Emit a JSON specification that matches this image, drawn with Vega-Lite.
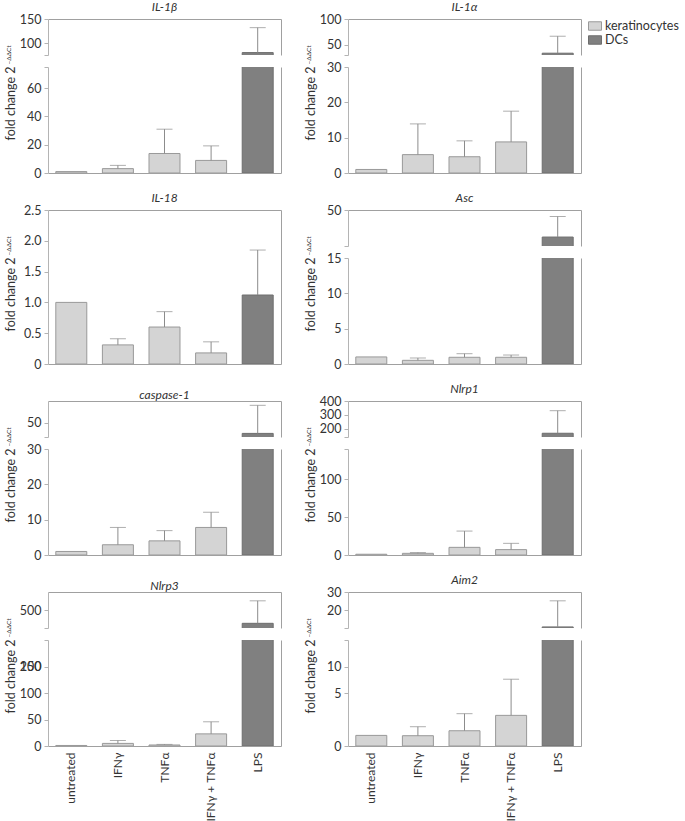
{
"$schema":"https://vega.github.io/schema/vega-lite/v6.json",
"padding":{"left":4,"top":1,"right":0,"bottom":0},
"datasets":{"d":[
{"gene":"IL-1β","treatment":"untreated","cell":"keratinocytes","value":1,"err":null},
{"gene":"IL-1β","treatment":"IFNγ","cell":"keratinocytes","value":3.1,"err":5.4},
{"gene":"IL-1β","treatment":"TNFα","cell":"keratinocytes","value":13.8,"err":31},
{"gene":"IL-1β","treatment":"IFNγ + TNFα","cell":"keratinocytes","value":8.9,"err":19.2},
{"gene":"IL-1β","treatment":"LPS","cell":"DCs","value":80,"err":132},
{"gene":"IL-1α","treatment":"untreated","cell":"keratinocytes","value":1,"err":null},
{"gene":"IL-1α","treatment":"IFNγ","cell":"keratinocytes","value":5.2,"err":13.9},
{"gene":"IL-1α","treatment":"TNFα","cell":"keratinocytes","value":4.6,"err":9.1},
{"gene":"IL-1α","treatment":"IFNγ + TNFα","cell":"keratinocytes","value":8.8,"err":17.5},
{"gene":"IL-1α","treatment":"LPS","cell":"DCs","value":33.5,"err":66.5},
{"gene":"IL-18","treatment":"untreated","cell":"keratinocytes","value":1.0,"err":null},
{"gene":"IL-18","treatment":"IFNγ","cell":"keratinocytes","value":0.31,"err":0.41},
{"gene":"IL-18","treatment":"TNFα","cell":"keratinocytes","value":0.60,"err":0.85},
{"gene":"IL-18","treatment":"IFNγ + TNFα","cell":"keratinocytes","value":0.18,"err":0.36},
{"gene":"IL-18","treatment":"LPS","cell":"DCs","value":1.12,"err":1.85},
{"gene":"Asc","treatment":"untreated","cell":"keratinocytes","value":1.0,"err":null},
{"gene":"Asc","treatment":"IFNγ","cell":"keratinocytes","value":0.52,"err":0.85},
{"gene":"Asc","treatment":"TNFα","cell":"keratinocytes","value":0.95,"err":1.46},
{"gene":"Asc","treatment":"IFNγ + TNFα","cell":"keratinocytes","value":0.95,"err":1.27},
{"gene":"Asc","treatment":"LPS","cell":"DCs","value":23.7,"err":43.7},
{"gene":"caspase-1","treatment":"untreated","cell":"keratinocytes","value":1,"err":null},
{"gene":"caspase-1","treatment":"IFNγ","cell":"keratinocytes","value":2.9,"err":7.8},
{"gene":"caspase-1","treatment":"TNFα","cell":"keratinocytes","value":4.0,"err":6.9},
{"gene":"caspase-1","treatment":"IFNγ + TNFα","cell":"keratinocytes","value":7.8,"err":12.1},
{"gene":"caspase-1","treatment":"LPS","cell":"DCs","value":35,"err":74},
{"gene":"Nlrp1","treatment":"untreated","cell":"keratinocytes","value":1,"err":null},
{"gene":"Nlrp1","treatment":"IFNγ","cell":"keratinocytes","value":2.2,"err":3.2},
{"gene":"Nlrp1","treatment":"TNFα","cell":"keratinocytes","value":10.1,"err":31.6},
{"gene":"Nlrp1","treatment":"IFNγ + TNFα","cell":"keratinocytes","value":7.1,"err":15.4},
{"gene":"Nlrp1","treatment":"LPS","cell":"DCs","value":167,"err":330},
{"gene":"Nlrp3","treatment":"untreated","cell":"keratinocytes","value":1,"err":null},
{"gene":"Nlrp3","treatment":"IFNγ","cell":"keratinocytes","value":4.9,"err":10.4},
{"gene":"Nlrp3","treatment":"TNFα","cell":"keratinocytes","value":1.9,"err":3.0},
{"gene":"Nlrp3","treatment":"IFNγ + TNFα","cell":"keratinocytes","value":22.9,"err":45.7},
{"gene":"Nlrp3","treatment":"LPS","cell":"DCs","value":426,"err":551},
{"gene":"Aim2","treatment":"untreated","cell":"keratinocytes","value":1.0,"err":null},
{"gene":"Aim2","treatment":"IFNγ","cell":"keratinocytes","value":0.97,"err":1.82},
{"gene":"Aim2","treatment":"TNFα","cell":"keratinocytes","value":1.44,"err":3.05},
{"gene":"Aim2","treatment":"IFNγ + TNFα","cell":"keratinocytes","value":2.89,"err":7.6},
{"gene":"Aim2","treatment":"LPS","cell":"DCs","value":15.3,"err":25.1}
]},
"data":{"name":"d"},
"columns":2,
"spacing":{"row":12,"column":23},
"concat":[
 {"vconcat":[
  {"width":233,"height":36,"title":"IL-1β","transform":[{"filter":"datum.gene == 'IL-1β'"}],"layer":[
   {"mark":{"type":"bar","clip":true,"strokeWidth":1},"encoding":{
    "x":{"field":"treatment","type":"nominal","sort":["untreated","IFNγ","TNFα","IFNγ + TNFα","LPS"],"scale":{"paddingInner":0.335,"paddingOuter":0.1675},"axis":{"orient":"top","labels":false,"ticks":false,"title":null,"domainColor":"#a0a0a0"}},
    "y":{"field":"value","type":"quantitative","scale":{"domain":[75,150],"zero":false,"nice":false},"axis":{"values":[75,100,150],"labelExpr":"datum.value == 75 ? '' : datum.label","title":null}},
    "fill":{"field":"cell","type":"nominal","scale":{"domain":["keratinocytes","DCs"],"range":["#d4d4d4","#808080"]},"legend":{"title":null}},
    "stroke":{"field":"cell","type":"nominal","scale":{"domain":["keratinocytes","DCs"],"range":["#999999","#6e6e6e"]},"legend":{"title":null}}}},
   {"mark":{"type":"rule","clip":true,"color":"#8c8c8c"},"encoding":{
    "x":{"field":"treatment","type":"nominal","sort":["untreated","IFNγ","TNFα","IFNγ + TNFα","LPS"],"axis":null},
    "y":{"field":"value","type":"quantitative","scale":{"domain":[75,150],"zero":false,"nice":false},"axis":{"orient":"right","labels":false,"ticks":false,"title":null,"domainColor":"#a0a0a0"}},
    "y2":{"field":"err"}}},
   {"mark":{"type":"tick","clip":true,"color":"#8c8c8c","size":16,"thickness":1},"encoding":{
    "x":{"field":"treatment","type":"nominal","sort":["untreated","IFNγ","TNFα","IFNγ + TNFα","LPS"],"axis":null},
    "y":{"field":"err","type":"quantitative","scale":{"domain":[75,150],"zero":false,"nice":false},"axis":null}}}
  ],"resolve":{"axis":{"x":"independent","y":"independent"}}},
  {"width":233,"height":106,"transform":[{"filter":"datum.gene == 'IL-1β'"}],"layer":[
   {"mark":{"type":"bar","clip":true,"strokeWidth":1},"encoding":{
    "x":{"field":"treatment","type":"nominal","sort":["untreated","IFNγ","TNFα","IFNγ + TNFα","LPS"],"scale":{"paddingInner":0.335,"paddingOuter":0.1675},"axis":{"orient":"bottom","labels":false,"ticks":false,"title":null,"domainColor":"#a0a0a0"}},
    "y":{"field":"value","type":"quantitative","scale":{"domain":[0,75],"zero":false,"nice":false},"axis":{"values":[0,20,40,60,75],"labelExpr":"datum.value == 75 ? '' : datum.label","title":"fold change 2","titleX":-34,"titleY":-1,"titleAlign":"right","titleAngle":270,"titleBaseline":"alphabetic"}},
    "fill":{"field":"cell","type":"nominal","legend":{"title":null}},
    "stroke":{"field":"cell","type":"nominal","legend":{"title":null}}}},
   {"mark":{"type":"rule","clip":true,"color":"#8c8c8c"},"encoding":{
    "x":{"field":"treatment","type":"nominal","sort":["untreated","IFNγ","TNFα","IFNγ + TNFα","LPS"],"axis":null},
    "y":{"field":"value","type":"quantitative","scale":{"domain":[0,75],"zero":false,"nice":false},"axis":{"orient":"right","labels":false,"ticks":false,"title":null,"domainColor":"#a0a0a0"}},
    "y2":{"field":"err"}}},
   {"mark":{"type":"tick","clip":true,"color":"#8c8c8c","size":16,"thickness":1},"encoding":{
    "x":{"field":"treatment","type":"nominal","sort":["untreated","IFNγ","TNFα","IFNγ + TNFα","LPS"],"axis":null},
    "y":{"field":"err","type":"quantitative","scale":{"domain":[0,75],"zero":false,"nice":false},"axis":{"orient":"left","domain":false,"ticks":false,"labels":false,"title":"−ΔΔCt","titleFontSize":6.5,"titleX":-38,"titleY":-3,"titleAlign":"left","titleAngle":270,"titleBaseline":"alphabetic"}}}}
  ],"resolve":{"axis":{"x":"independent","y":"independent"}}}
 ],"spacing":12,"bounds":"flush"},
 {"vconcat":[
  {"width":233,"height":36,"title":"IL-1α","transform":[{"filter":"datum.gene == 'IL-1α'"}],"layer":[
   {"mark":{"type":"bar","clip":true,"strokeWidth":1},"encoding":{
    "x":{"field":"treatment","type":"nominal","sort":["untreated","IFNγ","TNFα","IFNγ + TNFα","LPS"],"scale":{"paddingInner":0.335,"paddingOuter":0.1675},"axis":{"orient":"top","labels":false,"ticks":false,"title":null,"domainColor":"#a0a0a0"}},
    "y":{"field":"value","type":"quantitative","scale":{"domain":[30,100],"zero":false,"nice":false},"axis":{"values":[30,50,100],"labelExpr":"datum.value == 30 ? '' : datum.label","title":null}},
    "fill":{"field":"cell","type":"nominal","legend":{"title":null}},
    "stroke":{"field":"cell","type":"nominal","legend":{"title":null}}}},
   {"mark":{"type":"rule","clip":true,"color":"#8c8c8c"},"encoding":{
    "x":{"field":"treatment","type":"nominal","sort":["untreated","IFNγ","TNFα","IFNγ + TNFα","LPS"],"axis":null},
    "y":{"field":"value","type":"quantitative","scale":{"domain":[30,100],"zero":false,"nice":false},"axis":{"orient":"right","labels":false,"ticks":false,"title":null,"domainColor":"#a0a0a0"}},
    "y2":{"field":"err"}}},
   {"mark":{"type":"tick","clip":true,"color":"#8c8c8c","size":16,"thickness":1},"encoding":{
    "x":{"field":"treatment","type":"nominal","sort":["untreated","IFNγ","TNFα","IFNγ + TNFα","LPS"],"axis":null},
    "y":{"field":"err","type":"quantitative","scale":{"domain":[30,100],"zero":false,"nice":false},"axis":null}}}
  ],"resolve":{"axis":{"x":"independent","y":"independent"}}},
  {"width":233,"height":106,"transform":[{"filter":"datum.gene == 'IL-1α'"}],"layer":[
   {"mark":{"type":"bar","clip":true,"strokeWidth":1},"encoding":{
    "x":{"field":"treatment","type":"nominal","sort":["untreated","IFNγ","TNFα","IFNγ + TNFα","LPS"],"scale":{"paddingInner":0.335,"paddingOuter":0.1675},"axis":{"orient":"bottom","labels":false,"ticks":false,"title":null,"domainColor":"#a0a0a0"}},
    "y":{"field":"value","type":"quantitative","scale":{"domain":[0,30],"zero":false,"nice":false},"axis":{"values":[0,10,20,30],"title":"fold change 2","titleX":-34,"titleY":-1,"titleAlign":"right","titleAngle":270,"titleBaseline":"alphabetic"}},
    "fill":{"field":"cell","type":"nominal","legend":{"title":null}},
    "stroke":{"field":"cell","type":"nominal","legend":{"title":null}}}},
   {"mark":{"type":"rule","clip":true,"color":"#8c8c8c"},"encoding":{
    "x":{"field":"treatment","type":"nominal","sort":["untreated","IFNγ","TNFα","IFNγ + TNFα","LPS"],"axis":null},
    "y":{"field":"value","type":"quantitative","scale":{"domain":[0,30],"zero":false,"nice":false},"axis":{"orient":"right","labels":false,"ticks":false,"title":null,"domainColor":"#a0a0a0"}},
    "y2":{"field":"err"}}},
   {"mark":{"type":"tick","clip":true,"color":"#8c8c8c","size":16,"thickness":1},"encoding":{
    "x":{"field":"treatment","type":"nominal","sort":["untreated","IFNγ","TNFα","IFNγ + TNFα","LPS"],"axis":null},
    "y":{"field":"err","type":"quantitative","scale":{"domain":[0,30],"zero":false,"nice":false},"axis":{"orient":"left","domain":false,"ticks":false,"labels":false,"title":"−ΔΔCt","titleFontSize":6.5,"titleX":-38,"titleY":-3,"titleAlign":"left","titleAngle":270,"titleBaseline":"alphabetic"}}}}
  ],"resolve":{"axis":{"x":"independent","y":"independent"}}}
 ],"spacing":12,"bounds":"flush"},
 {"width":233,"height":154,"title":"IL-18","transform":[{"filter":"datum.gene == 'IL-18'"}],"layer":[
   {"mark":{"type":"bar","clip":true,"strokeWidth":1},"encoding":{
    "x":{"field":"treatment","type":"nominal","sort":["untreated","IFNγ","TNFα","IFNγ + TNFα","LPS"],"scale":{"paddingInner":0.335,"paddingOuter":0.1675},"axis":{"orient":"bottom","labels":false,"ticks":false,"title":null,"domainColor":"#a0a0a0"}},
    "y":{"field":"value","type":"quantitative","scale":{"domain":[0,2.5],"zero":false,"nice":false},"axis":{"values":[0,0.5,1,1.5,2,2.5],"labelExpr":"datum.value == 0 ? '0' : format(datum.value, '.1f')","title":"fold change 2","titleX":-34,"titleY":47,"titleAlign":"right","titleAngle":270,"titleBaseline":"alphabetic"}},
    "fill":{"field":"cell","type":"nominal","legend":{"title":null}},
    "stroke":{"field":"cell","type":"nominal","legend":{"title":null}}}},
   {"mark":{"type":"rule","clip":true,"color":"#8c8c8c"},"encoding":{
    "x":{"field":"treatment","type":"nominal","sort":["untreated","IFNγ","TNFα","IFNγ + TNFα","LPS"],"axis":{"orient":"top","labels":false,"ticks":false,"title":null,"domainColor":"#a0a0a0"}},
    "y":{"field":"value","type":"quantitative","scale":{"domain":[0,2.5],"zero":false,"nice":false},"axis":{"orient":"right","labels":false,"ticks":false,"title":null,"domainColor":"#a0a0a0"}},
    "y2":{"field":"err"}}},
   {"mark":{"type":"tick","clip":true,"color":"#8c8c8c","size":16,"thickness":1},"encoding":{
    "x":{"field":"treatment","type":"nominal","sort":["untreated","IFNγ","TNFα","IFNγ + TNFα","LPS"],"axis":null},
    "y":{"field":"err","type":"quantitative","scale":{"domain":[0,2.5],"zero":false,"nice":false},"axis":{"orient":"left","domain":false,"ticks":false,"labels":false,"title":"−ΔΔCt","titleFontSize":6.5,"titleX":-38,"titleY":45,"titleAlign":"left","titleAngle":270,"titleBaseline":"alphabetic"}}}}
  ],"resolve":{"axis":{"x":"independent","y":"independent"}}},
 {"vconcat":[
  {"width":233,"height":36,"title":"Asc","transform":[{"filter":"datum.gene == 'Asc'"}],"layer":[
   {"mark":{"type":"bar","clip":true,"strokeWidth":1},"encoding":{
    "x":{"field":"treatment","type":"nominal","sort":["untreated","IFNγ","TNFα","IFNγ + TNFα","LPS"],"scale":{"paddingInner":0.335,"paddingOuter":0.1675},"axis":{"orient":"top","labels":false,"ticks":false,"title":null,"domainColor":"#a0a0a0"}},
    "y":{"field":"value","type":"quantitative","scale":{"domain":[15,50],"zero":false,"nice":false},"axis":{"values":[15,50],"labelExpr":"datum.value == 15 ? '' : datum.label","title":null}},
    "fill":{"field":"cell","type":"nominal","legend":{"title":null}},
    "stroke":{"field":"cell","type":"nominal","legend":{"title":null}}}},
   {"mark":{"type":"rule","clip":true,"color":"#8c8c8c"},"encoding":{
    "x":{"field":"treatment","type":"nominal","sort":["untreated","IFNγ","TNFα","IFNγ + TNFα","LPS"],"axis":null},
    "y":{"field":"value","type":"quantitative","scale":{"domain":[15,50],"zero":false,"nice":false},"axis":{"orient":"right","labels":false,"ticks":false,"title":null,"domainColor":"#a0a0a0"}},
    "y2":{"field":"err"}}},
   {"mark":{"type":"tick","clip":true,"color":"#8c8c8c","size":16,"thickness":1},"encoding":{
    "x":{"field":"treatment","type":"nominal","sort":["untreated","IFNγ","TNFα","IFNγ + TNFα","LPS"],"axis":null},
    "y":{"field":"err","type":"quantitative","scale":{"domain":[15,50],"zero":false,"nice":false},"axis":null}}}
  ],"resolve":{"axis":{"x":"independent","y":"independent"}}},
  {"width":233,"height":106,"transform":[{"filter":"datum.gene == 'Asc'"}],"layer":[
   {"mark":{"type":"bar","clip":true,"strokeWidth":1},"encoding":{
    "x":{"field":"treatment","type":"nominal","sort":["untreated","IFNγ","TNFα","IFNγ + TNFα","LPS"],"scale":{"paddingInner":0.335,"paddingOuter":0.1675},"axis":{"orient":"bottom","labels":false,"ticks":false,"title":null,"domainColor":"#a0a0a0"}},
    "y":{"field":"value","type":"quantitative","scale":{"domain":[0,15],"zero":false,"nice":false},"axis":{"values":[0,5,10,15],"title":"fold change 2","titleX":-34,"titleY":-1,"titleAlign":"right","titleAngle":270,"titleBaseline":"alphabetic"}},
    "fill":{"field":"cell","type":"nominal","legend":{"title":null}},
    "stroke":{"field":"cell","type":"nominal","legend":{"title":null}}}},
   {"mark":{"type":"rule","clip":true,"color":"#8c8c8c"},"encoding":{
    "x":{"field":"treatment","type":"nominal","sort":["untreated","IFNγ","TNFα","IFNγ + TNFα","LPS"],"axis":null},
    "y":{"field":"value","type":"quantitative","scale":{"domain":[0,15],"zero":false,"nice":false},"axis":{"orient":"right","labels":false,"ticks":false,"title":null,"domainColor":"#a0a0a0"}},
    "y2":{"field":"err"}}},
   {"mark":{"type":"tick","clip":true,"color":"#8c8c8c","size":16,"thickness":1},"encoding":{
    "x":{"field":"treatment","type":"nominal","sort":["untreated","IFNγ","TNFα","IFNγ + TNFα","LPS"],"axis":null},
    "y":{"field":"err","type":"quantitative","scale":{"domain":[0,15],"zero":false,"nice":false},"axis":{"orient":"left","domain":false,"ticks":false,"labels":false,"title":"−ΔΔCt","titleFontSize":6.5,"titleX":-38,"titleY":-3,"titleAlign":"left","titleAngle":270,"titleBaseline":"alphabetic"}}}}
  ],"resolve":{"axis":{"x":"independent","y":"independent"}}}
 ],"spacing":12,"bounds":"flush"},
 {"vconcat":[
  {"width":233,"height":36,"title":"caspase-1","transform":[{"filter":"datum.gene == 'caspase-1'"}],"layer":[
   {"mark":{"type":"bar","clip":true,"strokeWidth":1},"encoding":{
    "x":{"field":"treatment","type":"nominal","sort":["untreated","IFNγ","TNFα","IFNγ + TNFα","LPS"],"scale":{"paddingInner":0.335,"paddingOuter":0.1675},"axis":{"orient":"top","labels":false,"ticks":false,"title":null,"domainColor":"#a0a0a0"}},
    "y":{"field":"value","type":"quantitative","scale":{"domain":[30,80],"zero":false,"nice":false},"axis":{"values":[30,50],"labelExpr":"datum.value == 30 ? '' : datum.label","title":null}},
    "fill":{"field":"cell","type":"nominal","legend":{"title":null}},
    "stroke":{"field":"cell","type":"nominal","legend":{"title":null}}}},
   {"mark":{"type":"rule","clip":true,"color":"#8c8c8c"},"encoding":{
    "x":{"field":"treatment","type":"nominal","sort":["untreated","IFNγ","TNFα","IFNγ + TNFα","LPS"],"axis":null},
    "y":{"field":"value","type":"quantitative","scale":{"domain":[30,80],"zero":false,"nice":false},"axis":{"orient":"right","labels":false,"ticks":false,"title":null,"domainColor":"#a0a0a0"}},
    "y2":{"field":"err"}}},
   {"mark":{"type":"tick","clip":true,"color":"#8c8c8c","size":16,"thickness":1},"encoding":{
    "x":{"field":"treatment","type":"nominal","sort":["untreated","IFNγ","TNFα","IFNγ + TNFα","LPS"],"axis":null},
    "y":{"field":"err","type":"quantitative","scale":{"domain":[30,80],"zero":false,"nice":false},"axis":null}}}
  ],"resolve":{"axis":{"x":"independent","y":"independent"}}},
  {"width":233,"height":106,"transform":[{"filter":"datum.gene == 'caspase-1'"}],"layer":[
   {"mark":{"type":"bar","clip":true,"strokeWidth":1},"encoding":{
    "x":{"field":"treatment","type":"nominal","sort":["untreated","IFNγ","TNFα","IFNγ + TNFα","LPS"],"scale":{"paddingInner":0.335,"paddingOuter":0.1675},"axis":{"orient":"bottom","labels":false,"ticks":false,"title":null,"domainColor":"#a0a0a0"}},
    "y":{"field":"value","type":"quantitative","scale":{"domain":[0,30],"zero":false,"nice":false},"axis":{"values":[0,10,20,30],"title":"fold change 2","titleX":-34,"titleY":-1,"titleAlign":"right","titleAngle":270,"titleBaseline":"alphabetic"}},
    "fill":{"field":"cell","type":"nominal","legend":{"title":null}},
    "stroke":{"field":"cell","type":"nominal","legend":{"title":null}}}},
   {"mark":{"type":"rule","clip":true,"color":"#8c8c8c"},"encoding":{
    "x":{"field":"treatment","type":"nominal","sort":["untreated","IFNγ","TNFα","IFNγ + TNFα","LPS"],"axis":null},
    "y":{"field":"value","type":"quantitative","scale":{"domain":[0,30],"zero":false,"nice":false},"axis":{"orient":"right","labels":false,"ticks":false,"title":null,"domainColor":"#a0a0a0"}},
    "y2":{"field":"err"}}},
   {"mark":{"type":"tick","clip":true,"color":"#8c8c8c","size":16,"thickness":1},"encoding":{
    "x":{"field":"treatment","type":"nominal","sort":["untreated","IFNγ","TNFα","IFNγ + TNFα","LPS"],"axis":null},
    "y":{"field":"err","type":"quantitative","scale":{"domain":[0,30],"zero":false,"nice":false},"axis":{"orient":"left","domain":false,"ticks":false,"labels":false,"title":"−ΔΔCt","titleFontSize":6.5,"titleX":-38,"titleY":-3,"titleAlign":"left","titleAngle":270,"titleBaseline":"alphabetic"}}}}
  ],"resolve":{"axis":{"x":"independent","y":"independent"}}}
 ],"spacing":12,"bounds":"flush"},
 {"vconcat":[
  {"width":233,"height":36,"title":"Nlrp1","transform":[{"filter":"datum.gene == 'Nlrp1'"}],"layer":[
   {"mark":{"type":"bar","clip":true,"strokeWidth":1},"encoding":{
    "x":{"field":"treatment","type":"nominal","sort":["untreated","IFNγ","TNFα","IFNγ + TNFα","LPS"],"scale":{"paddingInner":0.335,"paddingOuter":0.1675},"axis":{"orient":"top","labels":false,"ticks":false,"title":null,"domainColor":"#a0a0a0"}},
    "y":{"field":"value","type":"quantitative","scale":{"domain":[140,400],"zero":false,"nice":false},"axis":{"values":[140,200,300,400],"labelExpr":"datum.value == 140 ? '' : datum.label","title":null}},
    "fill":{"field":"cell","type":"nominal","legend":{"title":null}},
    "stroke":{"field":"cell","type":"nominal","legend":{"title":null}}}},
   {"mark":{"type":"rule","clip":true,"color":"#8c8c8c"},"encoding":{
    "x":{"field":"treatment","type":"nominal","sort":["untreated","IFNγ","TNFα","IFNγ + TNFα","LPS"],"axis":null},
    "y":{"field":"value","type":"quantitative","scale":{"domain":[140,400],"zero":false,"nice":false},"axis":{"orient":"right","labels":false,"ticks":false,"title":null,"domainColor":"#a0a0a0"}},
    "y2":{"field":"err"}}},
   {"mark":{"type":"tick","clip":true,"color":"#8c8c8c","size":16,"thickness":1},"encoding":{
    "x":{"field":"treatment","type":"nominal","sort":["untreated","IFNγ","TNFα","IFNγ + TNFα","LPS"],"axis":null},
    "y":{"field":"err","type":"quantitative","scale":{"domain":[140,400],"zero":false,"nice":false},"axis":null}}}
  ],"resolve":{"axis":{"x":"independent","y":"independent"}}},
  {"width":233,"height":106,"transform":[{"filter":"datum.gene == 'Nlrp1'"}],"layer":[
   {"mark":{"type":"bar","clip":true,"strokeWidth":1},"encoding":{
    "x":{"field":"treatment","type":"nominal","sort":["untreated","IFNγ","TNFα","IFNγ + TNFα","LPS"],"scale":{"paddingInner":0.335,"paddingOuter":0.1675},"axis":{"orient":"bottom","labels":false,"ticks":false,"title":null,"domainColor":"#a0a0a0"}},
    "y":{"field":"value","type":"quantitative","scale":{"domain":[0,140],"zero":false,"nice":false},"axis":{"values":[0,50,100,140],"labelExpr":"datum.value == 140 ? '' : datum.label","title":"fold change 2","titleX":-34,"titleY":-1,"titleAlign":"right","titleAngle":270,"titleBaseline":"alphabetic"}},
    "fill":{"field":"cell","type":"nominal","legend":{"title":null}},
    "stroke":{"field":"cell","type":"nominal","legend":{"title":null}}}},
   {"mark":{"type":"rule","clip":true,"color":"#8c8c8c"},"encoding":{
    "x":{"field":"treatment","type":"nominal","sort":["untreated","IFNγ","TNFα","IFNγ + TNFα","LPS"],"axis":null},
    "y":{"field":"value","type":"quantitative","scale":{"domain":[0,140],"zero":false,"nice":false},"axis":{"orient":"right","labels":false,"ticks":false,"title":null,"domainColor":"#a0a0a0"}},
    "y2":{"field":"err"}}},
   {"mark":{"type":"tick","clip":true,"color":"#8c8c8c","size":16,"thickness":1},"encoding":{
    "x":{"field":"treatment","type":"nominal","sort":["untreated","IFNγ","TNFα","IFNγ + TNFα","LPS"],"axis":null},
    "y":{"field":"err","type":"quantitative","scale":{"domain":[0,140],"zero":false,"nice":false},"axis":{"orient":"left","domain":false,"ticks":false,"labels":false,"title":"−ΔΔCt","titleFontSize":6.5,"titleX":-38,"titleY":-3,"titleAlign":"left","titleAngle":270,"titleBaseline":"alphabetic"}}}}
  ],"resolve":{"axis":{"x":"independent","y":"independent"}}}
 ],"spacing":12,"bounds":"flush"},
 {"vconcat":[
  {"width":233,"height":36,"title":"Nlrp3","transform":[{"filter":"datum.gene == 'Nlrp3'"}],"layer":[
   {"mark":{"type":"bar","clip":true,"strokeWidth":1},"encoding":{
    "x":{"field":"treatment","type":"nominal","sort":["untreated","IFNγ","TNFα","IFNγ + TNFα","LPS"],"scale":{"paddingInner":0.335,"paddingOuter":0.1675},"axis":{"orient":"top","labels":false,"ticks":false,"title":null,"domainColor":"#a0a0a0"}},
    "y":{"field":"value","type":"quantitative","scale":{"domain":[400,600],"zero":false,"nice":false},"axis":{"values":[400,500],"labelExpr":"datum.value == 400 ? '' : datum.label","title":null}},
    "fill":{"field":"cell","type":"nominal","legend":{"title":null}},
    "stroke":{"field":"cell","type":"nominal","legend":{"title":null}}}},
   {"mark":{"type":"rule","clip":true,"color":"#8c8c8c"},"encoding":{
    "x":{"field":"treatment","type":"nominal","sort":["untreated","IFNγ","TNFα","IFNγ + TNFα","LPS"],"axis":null},
    "y":{"field":"value","type":"quantitative","scale":{"domain":[400,600],"zero":false,"nice":false},"axis":{"orient":"right","labels":false,"ticks":false,"title":null,"domainColor":"#a0a0a0"}},
    "y2":{"field":"err"}}},
   {"mark":{"type":"tick","clip":true,"color":"#8c8c8c","size":16,"thickness":1},"encoding":{
    "x":{"field":"treatment","type":"nominal","sort":["untreated","IFNγ","TNFα","IFNγ + TNFα","LPS"],"axis":null},
    "y":{"field":"err","type":"quantitative","scale":{"domain":[400,600],"zero":false,"nice":false},"axis":null}}}
  ],"resolve":{"axis":{"x":"independent","y":"independent"}}},
  {"width":233,"height":106,"transform":[{"filter":"datum.gene == 'Nlrp3'"}],"layer":[
   {"mark":{"type":"bar","clip":true,"strokeWidth":1},"encoding":{
    "x":{"field":"treatment","type":"nominal","sort":["untreated","IFNγ","TNFα","IFNγ + TNFα","LPS"],"scale":{"paddingInner":0.335,"paddingOuter":0.1675},"axis":{"orient":"bottom","ticks":false,"title":null,"domainColor":"#a0a0a0","labelAngle":270,"labelPadding":6,"labelFontSize":12}},
    "y":{"field":"value","type":"quantitative","scale":{"domain":[0,200],"zero":false,"nice":false},"axis":{"values":[0,50,100,150,200],"labelExpr":"datum.value == 200 ? '' : datum.label","title":"fold change 2","titleX":-34,"titleY":-1,"titleAlign":"right","titleAngle":270,"titleBaseline":"alphabetic"}},
    "fill":{"field":"cell","type":"nominal","legend":{"title":null}},
    "stroke":{"field":"cell","type":"nominal","legend":{"title":null}}}},
   {"mark":{"type":"rule","clip":true,"color":"#8c8c8c"},"encoding":{
    "x":{"field":"treatment","type":"nominal","sort":["untreated","IFNγ","TNFα","IFNγ + TNFα","LPS"],"axis":null},
    "y":{"field":"value","type":"quantitative","scale":{"domain":[0,200],"zero":false,"nice":false},"axis":{"orient":"right","labels":false,"ticks":false,"title":null,"domainColor":"#a0a0a0"}},
    "y2":{"field":"err"}}},
   {"mark":{"type":"tick","clip":true,"color":"#8c8c8c","size":16,"thickness":1},"encoding":{
    "x":{"field":"treatment","type":"nominal","sort":["untreated","IFNγ","TNFα","IFNγ + TNFα","LPS"],"axis":null},
    "y":{"field":"err","type":"quantitative","scale":{"domain":[0,200],"zero":false,"nice":false},"axis":{"orient":"left","domain":false,"ticks":true,"tickOpacity":0,"tickSize":4,"labels":true,"values":[150],"labelExpr":"'200'","title":"−ΔΔCt","titleFontSize":6.5,"titleX":-38,"titleY":-3,"titleAlign":"left","titleAngle":270,"titleBaseline":"alphabetic"}}}}
  ],"resolve":{"axis":{"x":"independent","y":"independent"}}}
 ],"spacing":12,"bounds":"flush"},
 {"vconcat":[
  {"width":233,"height":36,"title":"Aim2","transform":[{"filter":"datum.gene == 'Aim2'"}],"layer":[
   {"mark":{"type":"bar","clip":true,"strokeWidth":1},"encoding":{
    "x":{"field":"treatment","type":"nominal","sort":["untreated","IFNγ","TNFα","IFNγ + TNFα","LPS"],"scale":{"paddingInner":0.335,"paddingOuter":0.1675},"axis":{"orient":"top","labels":false,"ticks":false,"title":null,"domainColor":"#a0a0a0"}},
    "y":{"field":"value","type":"quantitative","scale":{"domain":[15,20,30],"range":[36,18,0],"zero":false,"nice":false},"axis":{"values":[15,20,30],"labelExpr":"datum.value == 15 ? '' : datum.label","title":null}},
    "fill":{"field":"cell","type":"nominal","legend":{"title":null}},
    "stroke":{"field":"cell","type":"nominal","legend":{"title":null}}}},
   {"mark":{"type":"rule","clip":true,"color":"#8c8c8c"},"encoding":{
    "x":{"field":"treatment","type":"nominal","sort":["untreated","IFNγ","TNFα","IFNγ + TNFα","LPS"],"axis":null},
    "y":{"field":"value","type":"quantitative","scale":{"domain":[15,20,30],"range":[36,18,0],"zero":false,"nice":false},"axis":{"orient":"right","labels":false,"ticks":false,"title":null,"domainColor":"#a0a0a0"}},
    "y2":{"field":"err"}}},
   {"mark":{"type":"tick","clip":true,"color":"#8c8c8c","size":16,"thickness":1},"encoding":{
    "x":{"field":"treatment","type":"nominal","sort":["untreated","IFNγ","TNFα","IFNγ + TNFα","LPS"],"axis":null},
    "y":{"field":"err","type":"quantitative","scale":{"domain":[15,20,30],"range":[36,18,0],"zero":false,"nice":false},"axis":null}}}
  ],"resolve":{"axis":{"x":"independent","y":"independent"}}},
  {"width":233,"height":106,"transform":[{"filter":"datum.gene == 'Aim2'"}],"layer":[
   {"mark":{"type":"bar","clip":true,"strokeWidth":1},"encoding":{
    "x":{"field":"treatment","type":"nominal","sort":["untreated","IFNγ","TNFα","IFNγ + TNFα","LPS"],"scale":{"paddingInner":0.335,"paddingOuter":0.1675},"axis":{"orient":"bottom","ticks":false,"title":null,"domainColor":"#a0a0a0","labelAngle":270,"labelPadding":6,"labelFontSize":12}},
    "y":{"field":"value","type":"quantitative","scale":{"domain":[0,5,15],"range":[106,53,0],"zero":false,"nice":false},"axis":{"values":[0,5,10,15],"labelExpr":"datum.value == 15 ? '' : datum.label","title":"fold change 2","titleX":-34,"titleY":-1,"titleAlign":"right","titleAngle":270,"titleBaseline":"alphabetic"}},
    "fill":{"field":"cell","type":"nominal","legend":{"title":null}},
    "stroke":{"field":"cell","type":"nominal","legend":{"title":null}}}},
   {"mark":{"type":"rule","clip":true,"color":"#8c8c8c"},"encoding":{
    "x":{"field":"treatment","type":"nominal","sort":["untreated","IFNγ","TNFα","IFNγ + TNFα","LPS"],"axis":null},
    "y":{"field":"value","type":"quantitative","scale":{"domain":[0,5,15],"range":[106,53,0],"zero":false,"nice":false},"axis":{"orient":"right","labels":false,"ticks":false,"title":null,"domainColor":"#a0a0a0"}},
    "y2":{"field":"err"}}},
   {"mark":{"type":"tick","clip":true,"color":"#8c8c8c","size":16,"thickness":1},"encoding":{
    "x":{"field":"treatment","type":"nominal","sort":["untreated","IFNγ","TNFα","IFNγ + TNFα","LPS"],"axis":null},
    "y":{"field":"err","type":"quantitative","scale":{"domain":[0,5,15],"range":[106,53,0],"zero":false,"nice":false},"axis":{"orient":"left","domain":false,"ticks":false,"labels":false,"title":"−ΔΔCt","titleFontSize":6.5,"titleX":-38,"titleY":-3,"titleAlign":"left","titleAngle":270,"titleBaseline":"alphabetic"}}}}
  ],"resolve":{"axis":{"x":"independent","y":"independent"}}}
 ],"spacing":12,"bounds":"flush"}
],
"config":{
 "font":"Lato",
 "view":{"stroke":null},
 "axis":{"grid":false,"labelFont":"Lato","labelFontSize":12.5,"labelColor":"#333333","titleFont":"Lato","titleFontSize":12.5,"titleFontWeight":"normal","titleColor":"#333333","domainColor":"#b4b4b4","tickColor":"#b4b4b4","tickSize":4,"labelPadding":3},
 "title":{"font":"Lato","fontSize":12,"fontStyle":"italic","fontWeight":"normal","color":"#333333","offset":-1,"anchor":"middle","frame":"group"},
 "legend":{"orient":"right","offset":7,"padding":0,"symbolType":"M-1,-0.65H1V0.65H-1Z","symbolSize":169,"symbolStrokeWidth":1,"labelFont":"Lato","labelFontSize":12.5,"labelColor":"#333333","rowPadding":-4,"labelOffset":3}
}
}
